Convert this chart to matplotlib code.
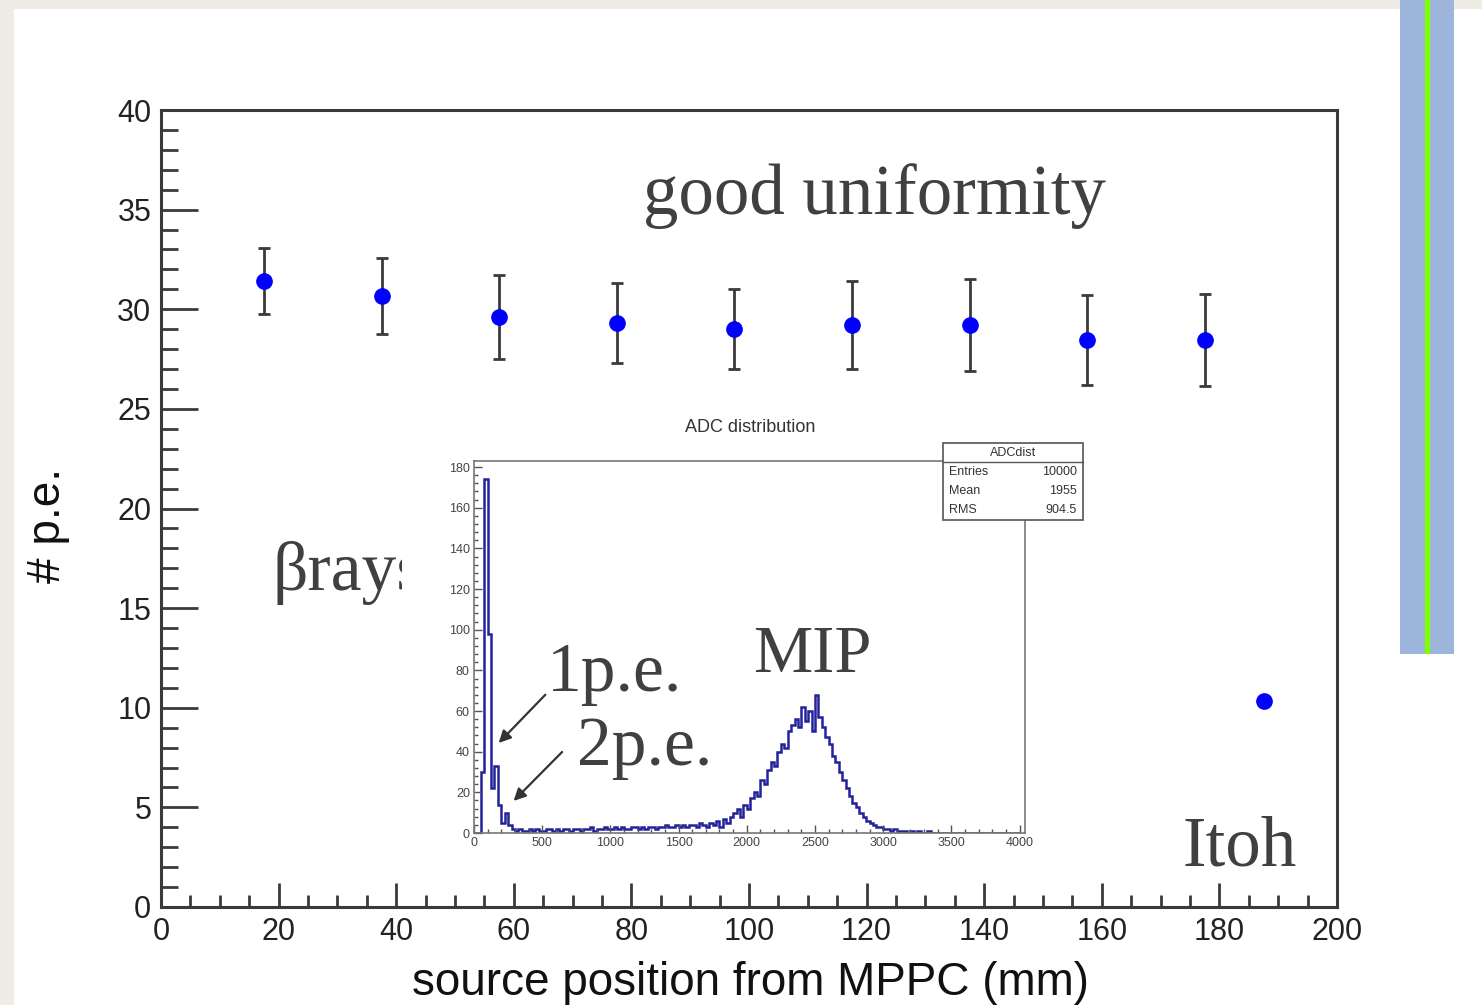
import numpy as np
import matplotlib.pyplot as plt
from matplotlib.patches import Rectangle
from matplotlib.ticker import MultipleLocator

plt.rcParams['font.family'] = ['Liberation Sans', 'DejaVu Sans']

''' Colours '''
slide_bg = "#efece6"
frame = "#3a3a3a"
text_grey = "#404040"
point_blue = "#0000ff"
hist_blue = "#22229a"
bar_blue = "#9db5da"
bar_green = "#80ff00"
serif = ['Liberation Serif', 'DejaVu Serif']

''' Light yield vs source position '''
position_mm = [17.5, 37.5, 57.5, 77.5, 97.5, 117.5, 137.5, 157.5, 177.5, 187.5]
npe = [31.4, 30.65, 29.6, 29.3, 29.0, 29.2, 29.2, 28.45, 28.45, 10.35]
npe_err = [1.65, 1.9, 2.1, 2.0, 2.0, 2.2, 2.3, 2.25, 2.3, 0.0]

''' ADC spectrum, 25 counts per bin from 0 to 4000 '''
adc_bin = 25
adc_counts = [
    0, 0, 30, 174, 98, 22, 33, 14, 5, 10, 4, 2,
    1, 2, 1, 1, 2, 1, 2, 1, 1, 2, 2, 1, 2, 1, 2, 2, 1, 2, 2, 1,
    2, 2, 3, 1, 2, 2, 3, 2, 2, 3, 2, 3, 2, 2, 3, 3, 2, 3, 2, 3,
    3, 2, 3, 3, 4, 3, 3, 4, 3, 4, 3, 4, 4, 3, 5, 4, 3, 5,
    4, 6, 3, 7, 5, 8, 10, 12, 8, 14, 12, 17, 20, 18, 26, 24, 31, 35, 33, 40,
    44, 42, 50, 53, 56, 52, 62, 55, 60, 50, 68, 57, 52, 47, 44, 38, 35, 30, 26, 22,
    18, 15, 13, 10, 8, 6, 5, 4, 3, 3, 2, 2, 1, 2, 1, 1, 1, 0, 1, 0, 1, 0, 0, 1,
] + [0] * 26
stat_names = ["Entries", "Mean", "RMS"]
stat_values = ["10000", "1955", "904.5"]

W, H = 1482, 1005
fig = plt.figure(figsize=(W / 100, H / 100), dpi=100)
fig.patch.set_facecolor(slide_bg)


def fx(px):
    return px / W


def fy(py):
    return 1 - py / H


''' Slide page and side decoration '''
fig.add_artist(Rectangle((fx(14), 0), 1, fy(9), transform=fig.transFigure,
                         facecolor="white", edgecolor="none", zorder=-2))
fig.add_artist(Rectangle((fx(1400), fy(654)), fx(1454) - fx(1400), 1, transform=fig.transFigure,
                         facecolor=bar_blue, edgecolor="none", zorder=-1))
fig.add_artist(Rectangle((fx(1425), fy(654)), fx(1430) - fx(1425), 1, transform=fig.transFigure,
                         facecolor=bar_green, edgecolor="none", zorder=-1))

''' Main plot '''
ax = fig.add_axes([fx(161), fy(907), fx(1337) - fx(161), fy(110) - fy(907)])
x = np.array(position_mm)
y = np.array(npe)
err = np.array(npe_err)
has_err = err > 0
ax.errorbar(x[has_err], y[has_err], yerr=err[has_err], fmt='none',
            ecolor=frame, elinewidth=2, capsize=4, capthick=2, zorder=2)
ax.plot(x, y, 'o', color=point_blue, markersize=11, zorder=3)

ax.set_xlim(0, 200)
ax.set_ylim(0, 40)
ax.xaxis.set_major_locator(MultipleLocator(20))
ax.xaxis.set_minor_locator(MultipleLocator(5))
ax.yaxis.set_major_locator(MultipleLocator(5))
ax.yaxis.set_minor_locator(MultipleLocator(1))
ax.tick_params(which='both', direction='in', top=False, right=False,
               width=2, color=frame, labelsize=22, labelcolor="#222222")
ax.tick_params(axis='x', which='major', length=17, pad=7)
ax.tick_params(axis='x', which='minor', length=8.6)
ax.tick_params(axis='y', which='major', length=26.5, pad=7)
ax.tick_params(axis='y', which='minor', length=12)
for sp in ax.spines.values():
    sp.set_linewidth(2.2)
    sp.set_color(frame)

ax.set_xlabel("source position from MPPC (mm)", fontsize=33, color="#111111")
ax.xaxis.set_label_coords(0.5009, -0.068)
ax.set_ylabel("# p.e.", fontsize=33, color="#111111")
ax.yaxis.set_label_coords(-0.077, 0.479)

ax.text(82, 34.8, "good uniformity", family=serif, fontsize=51,
        color=text_grey, va='baseline')
ax.text(18.9, 15.9, "βrays", family=serif, fontsize=50,
        color=text_grey, va='baseline')
ax.text(173.8, 2.06, "Itoh", family=serif, fontsize=51,
        color=text_grey, va='baseline')

''' Inset: ADC distribution '''
fig.add_artist(Rectangle((fx(402), fy(862)), fx(1092) - fx(402), fy(410) - fy(862),
                         transform=fig.transFigure, facecolor="white",
                         edgecolor="none", zorder=1))
axi = fig.add_axes([fx(474), fy(833), fx(1025) - fx(474), fy(461) - fy(833)])
axi.set_zorder(2)
edges = np.arange(len(adc_counts) + 1) * adc_bin
axi.stairs(adc_counts, edges, color=hist_blue, lw=1.8)
axi.set_xlim(0, 4040)
axi.set_ylim(0, 183)
axi.xaxis.set_major_locator(MultipleLocator(500))
axi.xaxis.set_minor_locator(MultipleLocator(100))
axi.yaxis.set_major_locator(MultipleLocator(20))
axi.yaxis.set_minor_locator(MultipleLocator(4))
axi.tick_params(which='both', direction='in', top=False, right=False,
                width=1, color="#555555", labelsize=9, labelcolor="#444444", pad=3)
axi.tick_params(which='major', length=6)
axi.tick_params(which='minor', length=3)
for sp in axi.spines.values():
    sp.set_linewidth(1.2)
    sp.set_color("#777777")
fig.text(fx(750), fy(428), "ADC distribution", fontsize=13, color="#333333",
         ha='center', va='center', zorder=3)

# statistics box
bx0, bx1, by0, by1 = fx(943), fx(1083), fy(520), fy(443)
row_h = (by1 - by0) / 4
fig.add_artist(Rectangle((bx0, by0), bx1 - bx0, by1 - by0, transform=fig.transFigure,
                         facecolor="white", edgecolor="#555555", lw=1.2, zorder=3))
fig.add_artist(plt.Line2D([bx0, bx1], [by1 - row_h] * 2, transform=fig.transFigure,
                          color="#555555", lw=1, zorder=4))
fig.text((bx0 + bx1) / 2, by1 - row_h / 2, "ADCdist", fontsize=9, color="#333333",
         ha='center', va='center', zorder=4)
for i, (name, val) in enumerate(zip(stat_names, stat_values)):
    yy = by1 - row_h * (i + 1.5)
    fig.text(bx0 + fx(6), yy, name, fontsize=9, color="#333333",
             ha='left', va='center', zorder=4)
    fig.text(bx1 - fx(6), yy, val, fontsize=9, color="#333333",
             ha='right', va='center', zorder=4)

axi.text(2050, 79, "MIP", family=serif, fontsize=48, color=text_grey, va='baseline')
axi.text(537, 70, "1p.e.", family=serif, fontsize=50, color=text_grey, va='baseline')
axi.text(755, 33.4, "2p.e.", family=serif, fontsize=50, color=text_grey, va='baseline')
arrow = dict(arrowstyle='-|>', color="#333333", lw=1.6, mutation_scale=18)
axi.annotate("", xy=(167, 43.3), xytext=(537, 69), arrowprops=arrow)
axi.annotate("", xy=(276, 14.8), xytext=(660, 40.8), arrowprops=arrow)

plt.savefig("out.png", dpi=100, facecolor=fig.get_facecolor())
